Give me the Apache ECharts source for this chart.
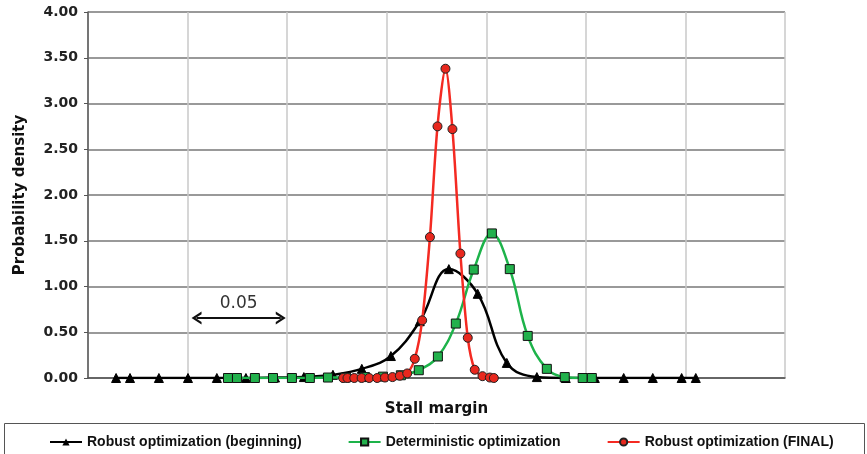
<!DOCTYPE html>
<html>
<head>
<meta charset="utf-8">
<script src="https://cdn.jsdelivr.net/npm/echarts@6/dist/echarts.min.js"></script>
<style>html,body{margin:0;padding:0;background:#fff}#c{width:867px;height:454px}</style>
</head>
<body>
<div id="c"></div>
<script>
// Stall margin (x) and probability density (y) for each series
const beginX = [0.0141,0.0211,0.0356,0.0502,0.0647,0.0793,0.0939,0.1084,0.1230,0.1375,0.1521,0.1666,0.1812,0.1957,0.2103,0.2254,0.2399,0.2545,0.2690,0.2836,0.2981,0.3052];
const beginY = [0,0,0,0,0,0,0.005,0.01,0.035,0.10,0.24,0.62,1.19,0.92,0.165,0.01,0,0,0,0,0,0];

const detX = [0.0703,0.0748,0.0838,0.0929,0.1024,0.1114,0.1205,0.1295,0.1391,0.1481,0.1571,0.1661,0.1757,0.1847,0.1937,0.2028,0.2118,0.2208,0.2304,0.2394,0.2484,0.2530];
const detY = [0,0,0,0,0,0,0.005,0.005,0.01,0.015,0.03,0.085,0.235,0.595,1.185,1.58,1.19,0.46,0.10,0.01,0,0];

const finalX = [0.1281,0.1303,0.1337,0.1374,0.1412,0.1452,0.1491,0.1529,0.1566,0.1603,0.1641,0.1678,0.1717,0.1755,0.1795,0.1830,0.1870,0.1907,0.1942,0.1981,0.2018,0.2038];
const finalY = [0,0,0,0,0,0,0.005,0.01,0.025,0.05,0.21,0.63,1.54,2.75,3.38,2.72,1.36,0.44,0.09,0.02,0.005,0];

const seriesNames = ['Robust optimization (beginning)','Deterministic optimization','Robust optimization (FINAL)'];
const yTicks = [0,0.5,1,1.5,2,2.5,3,3.5,4];
const spanLabel = '0.05';
const spanFrom = 0.0545, spanTo = 0.0968, spanY = 0.655;

const zip = (xs, ys) => xs.map((x, i) => [x, ys[i]]);

const chart = echarts.init(document.getElementById('c'), null, {renderer: 'canvas'});
chart.setOption({
  animation: false,
  backgroundColor: '#fff',
  grid: {left: 88, right: 82, top: 12, bottom: 76, containLabel: false, outerBoundsMode: 'none'},
  xAxis: {
    type: 'value', min: 0, max: 0.35, interval: 0.05,
    name: 'Stall margin', nameLocation: 'middle', nameGap: 24,
    nameTextStyle: {fontFamily: 'DejaVu Sans', fontWeight: 'bold', fontSize: 15, color: '#111'},
    axisLine: {show: true, onZero: false, lineStyle: {color: '#555', width: 1.5}},
    axisTick: {show: false},
    axisLabel: {show: false},
    splitLine: {show: true, lineStyle: {color: '#c8c8c8', width: 1.5}}
  },
  yAxis: {
    type: 'value', min: 0, max: 4, interval: 0.5,
    name: 'Probability density', nameLocation: 'middle', nameGap: 60,
    nameTextStyle: {fontFamily: 'DejaVu Sans', fontWeight: 'bold', fontSize: 15, color: '#111'},
    axisLine: {show: true, lineStyle: {color: '#555', width: 1.5}},
    axisTick: {show: true, length: 4, lineStyle: {color: '#555'}},
    axisLabel: {
      fontFamily: 'DejaVu Sans', fontWeight: 'bold', fontSize: 14, color: '#222', margin: 10,
      formatter: v => v.toFixed(2)
    },
    splitLine: {show: true, lineStyle: {color: '#777', width: 1.5}}
  },
  legend: {
    left: 44, top: 430, itemGap: 46, itemWidth: 32, itemHeight: 9,
    textStyle: {fontFamily: 'Liberation Sans', fontWeight: 'bold', fontSize: 14, color: '#111'},
    data: seriesNames
  },
  graphic: [{
    type: 'rect', left: 2, top: 421, shape: {width: 860, height: 31},
    style: {fill: 'none', stroke: '#555', lineWidth: 1}, silent: true
  }],
  series: [
    {
      name: seriesNames[0], type: 'line', smooth: 0.4, data: zip(beginX, beginY),
      symbol: 'triangle', symbolSize: 9,
      lineStyle: {color: '#000', width: 2.5},
      itemStyle: {color: '#000', borderColor: '#000'}, z: 2,
      markLine: {
        silent: true, symbol: ['path://M0,10 L5,0 L10,10 L8,10 L5,4 L2,10 Z','path://M0,10 L5,0 L10,10 L8,10 L5,4 L2,10 Z'],
        symbolSize: [13, 10],
        lineStyle: {color: '#111', width: 2, type: 'solid'},
        label: {show: true, position: 'middle', formatter: spanLabel, fontFamily: 'DejaVu Sans', fontSize: 17, color: '#333', distance: 6},
        data: [[{coord: [spanFrom, spanY]}, {coord: [spanTo, spanY]}]]
      }
    },
    {
      name: seriesNames[1], type: 'line', smooth: 0.4, data: zip(detX, detY),
      symbol: 'rect', symbolSize: 9,
      lineStyle: {color: '#1db34a', width: 2.5},
      itemStyle: {color: '#22b14c', borderColor: '#111', borderWidth: 1}, z: 3
    },
    {
      name: seriesNames[2], type: 'line', smooth: 0.3, data: zip(finalX, finalY),
      symbol: 'circle', symbolSize: 9,
      lineStyle: {color: '#f42a22', width: 2.5},
      itemStyle: {color: '#e8281e', borderColor: '#222', borderWidth: 1}, z: 4
    }
  ]
});
</script>
</body>
</html>
